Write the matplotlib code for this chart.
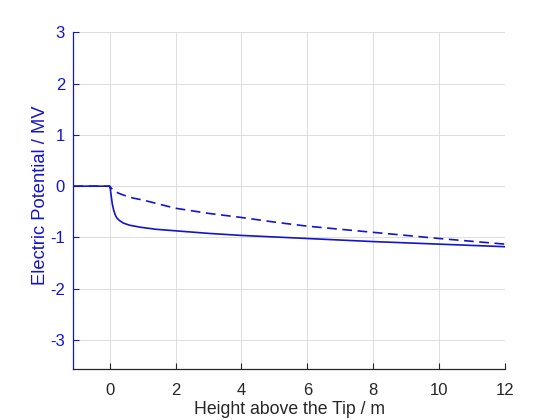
import matplotlib
matplotlib.use("Agg")
import matplotlib.pyplot as plt

# data
x_solid = [-1.1, 0, 0.02, 0.05, 0.08, 0.12, 0.17, 0.22, 0.3, 0.42, 0.6, 0.93, 1.4, 2, 3, 4, 5, 6, 7, 8, 9, 10, 11, 12]
y_solid = [0, 0, -0.05, -0.2, -0.34, -0.46, -0.56, -0.62, -0.67, -0.72, -0.76, -0.80, -0.84, -0.87, -0.92, -0.96, -0.99, -1.02, -1.05, -1.08, -1.105, -1.13, -1.155, -1.18]

x_dashed = [-1.1, 0, 0.03, 0.08, 0.15, 0.25, 0.34, 0.5, 0.7, 0.93, 1.2, 1.5, 2, 2.5, 3, 4, 5, 6, 7, 8, 9, 10, 11, 12]
y_dashed = [0, 0, -0.02, -0.06, -0.10, -0.13, -0.155, -0.19, -0.23, -0.26, -0.30, -0.35, -0.43, -0.48, -0.53, -0.61, -0.70, -0.78, -0.84, -0.90, -0.96, -1.02, -1.075, -1.13]

x_ticks = [0, 2, 4, 6, 8, 10, 12]
y_ticks = [-3, -2, -1, 0, 1, 2, 3]

plt.rcParams['font.family'] = ['Liberation Sans', 'DejaVu Sans']
plt.rcParams['lines.scale_dashes'] = False
plt.rcParams['axes.unicode_minus'] = False

blue = '#1414cc'
dark = '#262626'

fig = plt.figure(figsize=(5.6, 4.2), dpi=100)
ax = fig.add_axes([0.131, 0.1207, 0.771, 0.8024])

ax.plot(x_solid, y_solid, color=blue, lw=1.2)
ax.plot(x_dashed, y_dashed, color=blue, lw=1.2, dashes=(7, 4))

ax.set_xlim(-1.1, 12)
ax.set_ylim(-3.57, 3)
ax.set_xticks(x_ticks)
ax.set_yticks(y_ticks)

ax.grid(True, color='#dcdce4', lw=0.7)
ax.set_axisbelow(True)

ax.spines['top'].set_visible(False)
ax.spines['right'].set_visible(False)
ax.spines['left'].set_color(blue)
ax.spines['bottom'].set_color(dark)
ax.spines['left'].set_linewidth(0.9)
ax.spines['bottom'].set_linewidth(0.9)

ax.tick_params(axis='x', direction='in', length=4, width=0.8, color=dark,
               labelcolor=dark, labelsize=12, pad=10)
ax.tick_params(axis='y', direction='in', length=4, width=0.8, color=blue,
               labelcolor=blue, labelsize=12, pad=6)

ax.set_xlabel('Height above the Tip / m', fontsize=12.7, color=dark, labelpad=2)
ax.set_ylabel('Electric Potential / MV', fontsize=13.2, color=blue)
ax.yaxis.set_label_coords(-0.056, 0.516)

fig.savefig('out.png', dpi=100)
